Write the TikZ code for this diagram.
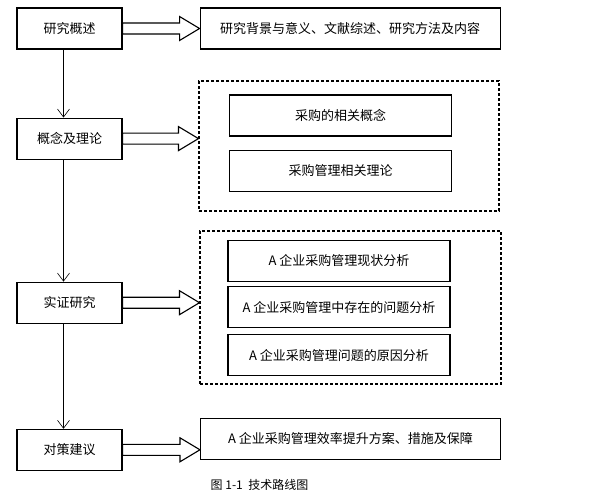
\documentclass[tikz,border=0pt]{standalone}
\usepackage{fontspec}
\setmainfont{Noto Sans CJK SC}
\usetikzlibrary{arrows.meta,positioning,calc}

% hollow block arrow from a box to the next column
\newcommand{\fatarrow}[2]{%
  \draw [hollow] ($(#1.east)+(0,5.5)$) -- ($(#1.east -| #2.west)+(-20,5.5)$) -- ++(0,6.5)
    -- (#1.east -| #2.west) -- ++(-20,-12) -- ++(0,6.5) -- ($(#1.east)+(0,-5.5)$) -- cycle;}

\begin{document}
\begin{tikzpicture}[x=1pt,y=1pt,font=\fontsize{13}{15}\selectfont,
  box/.style={draw,line width=1.1pt,minimum width=105pt,minimum height=41pt,inner sep=0pt},
  wide/.style={box,minimum width=300pt},
  item/.style={box,minimum width=222pt},
  group/.style={draw,line width=1.1pt,dash pattern=on 3pt off 2pt,inner sep=0pt},
  link/.style={-{Straight Barb[length=8pt,width=12pt]},line width=0.6pt},
  hollow/.style={line width=1.1pt,fill=white}]

\useasboundingbox (0,0) rectangle (609,-495);

\node	[box]	(gaishu)	at (69.5,-28.5)		{研究概述};
\node	[box]	(gainian)	[below=68pt of gaishu]	{概念及理论};
\node	[box]	(shizheng)	[below=122pt of gainian]	{实证研究};
\node	[box]	(duice)		[below=105pt of shizheng]	{对策建议};

\node	[wide]	(beijing)	[right=77pt of gaishu]	{研究背景与意义、文献综述、研究方法及内容};

\node	[group,minimum width=300pt,minimum height=130pt]	(zu1)	at (349,-146)	{};
\node	[item]	(gainian1)	at (340.5,-115.5)		{采购的相关概念};
\node	[item]	(lilun)		[below=13pt of gainian1]	{采购管理相关理论};

\node	[group,minimum width=301pt,minimum height=153pt]	(zu2)	at (350.5,-307.5)	{};
\node	[item]	(xianzhuang)	at (339,-261)			{A 企业采购管理现状分析};
\node	[item]	(wenti)		[below=4pt of xianzhuang]	{A 企业采购管理中存在的问题分析};
\node	[item]	(yuanyin)	[below=6pt of wenti]		{A 企业采购管理问题的原因分析};

\node	[wide]	(fangan)	at (350.5,-439)		{A 企业采购管理效率提升方案、措施及保障};

\node	[font=\fontsize{12}{14}\selectfont]	(tu)	at (259.5,-485)	{图\ 1-1\ \ 技术路线图};

\draw	[link]	([xshift=-6pt]gaishu.south)	--	([xshift=-6pt]gainian.north);
\draw	[link]	([xshift=-6pt]gainian.south)	--	([xshift=-6pt]shizheng.north);
\draw	[link]	([xshift=-6pt]shizheng.south)	--	([xshift=-6pt]duice.north);

\fatarrow{gaishu}{beijing}
\fatarrow{gainian}{zu1}
\fatarrow{shizheng}{zu2}
\fatarrow{duice}{fangan}
\end{tikzpicture}
\end{document}
